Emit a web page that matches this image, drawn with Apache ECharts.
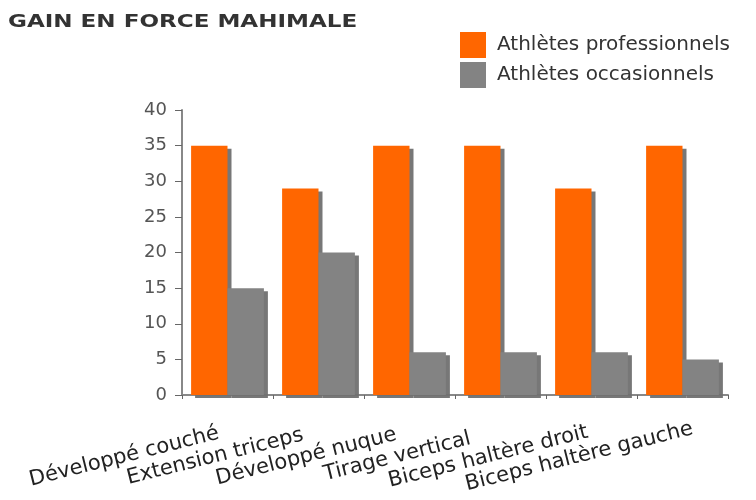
<!DOCTYPE html>
<html>
<head>
<meta charset="utf-8">
<script src="https://cdn.jsdelivr.net/npm/echarts@6/dist/echarts.min.js"></script>
<style>
  html, body { margin: 0; padding: 0; background: #ffffff; }
  #chart { width: 756px; height: 500px; }
</style>
</head>
<body>
<div id="chart"></div>
<script>
// Exercises and strength gains per group of athletes
const categories = [
  'Développé couché',
  'Extension triceps',
  'Développé nuque',
  'Tirage vertical',
  'Biceps haltère droit',
  'Biceps haltère gauche'
];
const seriesNames = ['Athlètes professionnels', 'Athlètes occasionnels'];
const professionnels = [35, 29, 35, 35, 29, 35];
const occasionnels = [15, 20, 6, 6, 6, 5];
const yTicks = { min: 0, max: 40, interval: 5 };

const chart = echarts.init(document.getElementById('chart'), null, { renderer: 'canvas' });

const barShadow = {
  shadowColor: 'rgba(112,112,112,0.95)',
  shadowBlur: 0,
  shadowOffsetX: 4,
  shadowOffsetY: 3
};

chart.setOption({
  animation: false,
  backgroundColor: '#ffffff',
  graphic: [{
    type: 'text',
    left: 8,
    top: 13,
    scaleX: 1.28,
    style: {
      text: 'GAIN EN FORCE MAHIMALE',
      fontFamily: 'DejaVu Sans',
      fontWeight: 'bold',
      fontSize: 18,
      fill: '#333333'
    }
  }],
  legend: {
    orient: 'vertical',
    left: 455,
    top: 27,
    itemWidth: 26,
    itemHeight: 26,
    itemGap: 4,
    icon: 'rect',
    itemStyle: { shadowColor: 'transparent', shadowOffsetX: 0, shadowOffsetY: 0 },
    textStyle: {
      fontFamily: 'DejaVu Sans',
      fontSize: 20,
      color: '#333333',
      padding: [0, 0, 0, 6]
    },
    data: seriesNames
  },
  grid: { left: 182, right: 28, top: 110, bottom: 105 },
  xAxis: {
    type: 'category',
    data: categories,
    axisLine: { show: true, lineStyle: { color: '#888888', width: 2 } },
    axisTick: { show: true, inside: false, length: 4, lineStyle: { color: '#666666' } },
    axisLabel: {
      interval: 0,
      rotate: 14,
      align: 'center',
      verticalAlign: 'middle',
      margin: 36,
      padding: [0, 213, 0, 0],
      fontFamily: 'DejaVu Sans',
      fontSize: 21,
      color: '#222222'
    },
    splitLine: { show: false }
  },
  yAxis: {
    type: 'value',
    min: yTicks.min,
    max: yTicks.max,
    interval: yTicks.interval,
    axisLine: { show: true, lineStyle: { color: '#888888', width: 2 } },
    axisTick: { show: true, inside: false, length: 7, lineStyle: { color: '#666666' } },
    axisLabel: {
      margin: 15,
      fontFamily: 'DejaVu Sans',
      fontSize: 18,
      color: '#555555'
    },
    splitLine: { show: false }
  },
  series: [
    {
      name: seriesNames[0],
      type: 'bar',
      data: professionnels,
      barGap: '0%',
      barCategoryGap: '20%',
      itemStyle: Object.assign({ color: '#ff6600' }, barShadow)
    },
    {
      name: seriesNames[1],
      type: 'bar',
      data: occasionnels,
      barGap: '0%',
      barCategoryGap: '20%',
      itemStyle: Object.assign({ color: '#838383' }, barShadow)
    }
  ]
});
</script>
</body>
</html>
